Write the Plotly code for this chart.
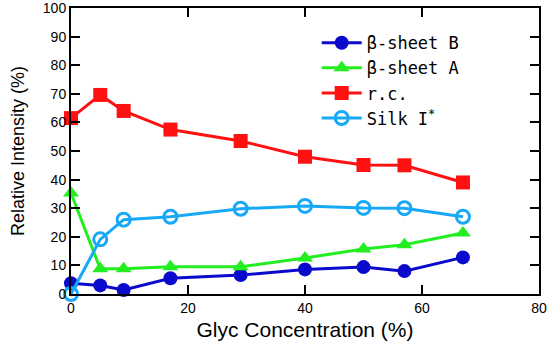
import plotly.graph_objects as go

glyc = [0, 5, 9, 17, 29, 40, 50, 57, 67]
beta_b = [3.8, 3.0, 1.4, 5.5, 6.6, 8.6, 9.4, 8.0, 12.8]
beta_a = [35.3, 8.8, 8.8, 9.5, 9.5, 12.6, 15.7, 17.2, 21.3]
rc = [61.5, 69.6, 64.0, 57.5, 53.5, 48.0, 45.1, 45.0, 39.0]
silk = [0.0, 19.1, 26.0, 27.0, 29.8, 30.8, 30.1, 30.0, 27.0]

series = [
    ("β-sheet B", beta_b, "#0a0acc", "circle"),
    ("β-sheet A", beta_a, "#22ee22", "triangle-up"),
    ("r.c.", rc, "#ff1111", "square"),
    ("Silk I<sup>*</sup>", silk, "#18a8f8", "circle-open"),
]

fig = go.Figure()
for name, ys, color, sym in series:
    marker = dict(symbol=sym, size=14 if sym != "circle-open" else 13, color=color)
    if sym == "circle-open":
        marker["line"] = dict(width=3, color=color)
    fig.add_trace(go.Scatter(x=glyc, y=ys, mode="lines+markers", name=name,
                             line=dict(color=color, width=3), marker=marker,
                             cliponaxis=False))

axis_common = dict(showline=True, linecolor="black", linewidth=2, mirror="ticks",
                   ticks="inside", ticklen=9, tickwidth=2, tickcolor="black",
                   showgrid=False, zeroline=False, automargin=False,
                   ticklabeloverflow="allow",
                   tickfont=dict(family="Liberation Sans, Arial", size=14, color="black"))

fig.update_layout(
    width=550, height=347,
    margin=dict(l=71, r=11, t=8, b=53),
    paper_bgcolor="white", plot_bgcolor="white",
    xaxis=dict(range=[0, 80], dtick=20, tick0=0,
               title=dict(text="Glyc Concentration (%)", standoff=8,
                          font=dict(family="Liberation Sans, Arial", size=21, color="black")),
               **axis_common),
    yaxis=dict(range=[0, 100], dtick=10, tick0=0,
               title=dict(text="Relative Intensity (%)", standoff=14,
                          font=dict(family="Liberation Sans, Arial", size=18, color="black")),
               **axis_common),
    legend=dict(x=0.525, y=0.94, xanchor="left", yanchor="top",
                bgcolor="rgba(0,0,0,0)",
                font=dict(family="DejaVu Sans Mono", size=17, color="black"),
                itemwidth=40, tracegroupgap=0),
    showlegend=True,
)

fig.write_html("out.html", config={"displayModeBar": False},
               post_script="document.body.style.margin='0';")
